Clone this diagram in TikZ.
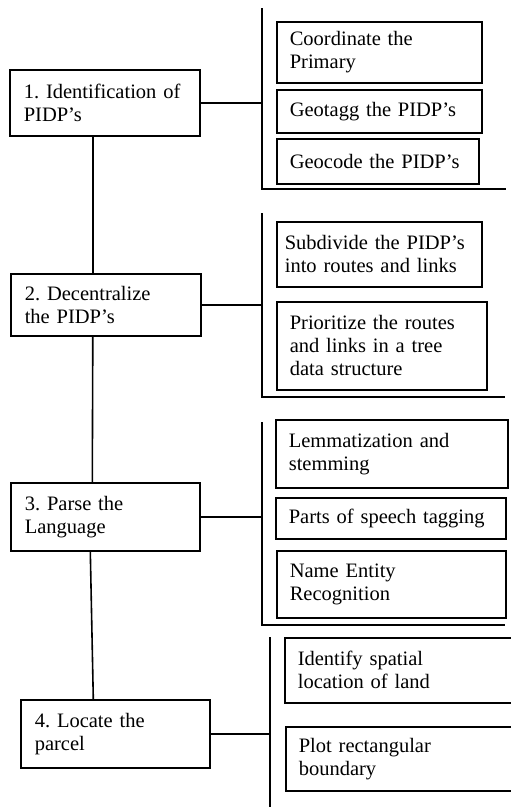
\documentclass[tikz,border=0pt]{standalone}
\usepackage{fontspec}
\setmainfont{Liberation Serif}
\usetikzlibrary{positioning, calc}
\frenchspacing

\begin{document}
\begin{tikzpicture}[x=1pt, y=-1pt,
  stage/.style={draw, line width=1.6pt, anchor=north west, inner xsep=14pt, inner ysep=0pt, align=left, font=\fontsize{20.5}{23}\selectfont},
  task/.style={stage, inner xsep=13pt},
  bracket/.style={line width=1.6pt},
  link/.style={line width=1.6pt}]
  \useasboundingbox (0,0) rectangle (511,807);
  \clip (0,0) rectangle (511,807);

  % main steps
  \node[stage, text width=162pt, minimum height=66pt] (s1) at (9,69) {1. Identification of\\PIDP’s};
  \node[stage, text width=162pt, minimum height=62pt] (s2) at (10,273) {2. Decentralize\\the PIDP’s};
  \node[stage, text width=161pt, minimum height=68pt] (s3) at (10,482) {3. Parse the\\Language};
  \node[stage, text width=161pt, minimum height=68pt] (s4) at (20,699) {4. Locate the\\parcel};

  % tasks of step 1
  \node[task, text width=179pt, minimum height=61pt] (t11) at (276,21) {Coordinate the\\Primary};
  \node[task, text width=179pt, minimum height=43pt] (t12) at (276,89) {Geotagg the PIDP’s};
  \node[task, text width=176pt, minimum height=45pt] (t13) at (276,138) {Geocode the PIDP’s};

  % tasks of step 2
  \node[task, inner xsep=8pt, text width=189pt, minimum height=65pt] (t21) at (276,221) {Subdivide the PIDP’s\\into routes and links};
  \node[task, text width=184pt, minimum height=88pt] (t22) at (276,301) {Prioritize the routes\\and links in a tree\\data structure};

  % tasks of step 3
  \node[task, text width=206pt, minimum height=68pt] (t31) at (275,419) {Lemmatization and\\stemming};
  \node[task, text width=204pt, minimum height=41pt] (t32) at (275,497) {Parts of speech tagging};
  \node[task, text width=203pt, minimum height=67pt] (t33) at (276,550) {Name Entity\\Recognition};

  % tasks of step 4
  \node[task, text width=210pt, minimum height=65pt] (t41) at (284,637) {Identify spatial\\location of land};
  \node[task, text width=209pt, minimum height=64pt] (t42) at (285,726) {Plot rectangular\\boundary};

  % brackets
  \coordinate (b1a) at (262,8);
  \coordinate (b1b) at (262,189);
  \coordinate (b1c) at (506,189);
  \coordinate (b2a) at (262,213);
  \coordinate (b2b) at (262,397);
  \coordinate (b2c) at (505,397);
  \coordinate (b3a) at (262,422);
  \coordinate (b3b) at (262,625);
  \coordinate (b3c) at (505,625);
  \coordinate (b4a) at (270,637);
  \coordinate (b4b) at (270,807);
  \draw[bracket] (b1a) -- (b1b) -- (b1c);
  \draw[bracket] (b2a) -- (b2b) -- (b2c);
  \draw[bracket] (b3a) -- (b3b) -- (b3c);
  \draw[bracket] (b4a) -- (b4b);

  % steps to their brackets
  \draw[link] (s1.east) -- (s1.east -| b1a);
  \draw[link] (s2.east) -- (s2.east -| b2a);
  \draw[link] (s3.east) -- (s3.east -| b3a);
  \draw[link] (s4.east) -- (s4.east -| b4a);

  % trunk
  \draw[link] ([xshift=-12pt]s1.south) -- ([xshift=-13pt]s2.north);
  \draw[link] ([xshift=-13pt]s2.south) -- ([xshift=-13pt]s3.north);
  \draw[link] ([xshift=-15pt]s3.south) -- ([xshift=-22pt]s4.north);
\end{tikzpicture}
\end{document}
